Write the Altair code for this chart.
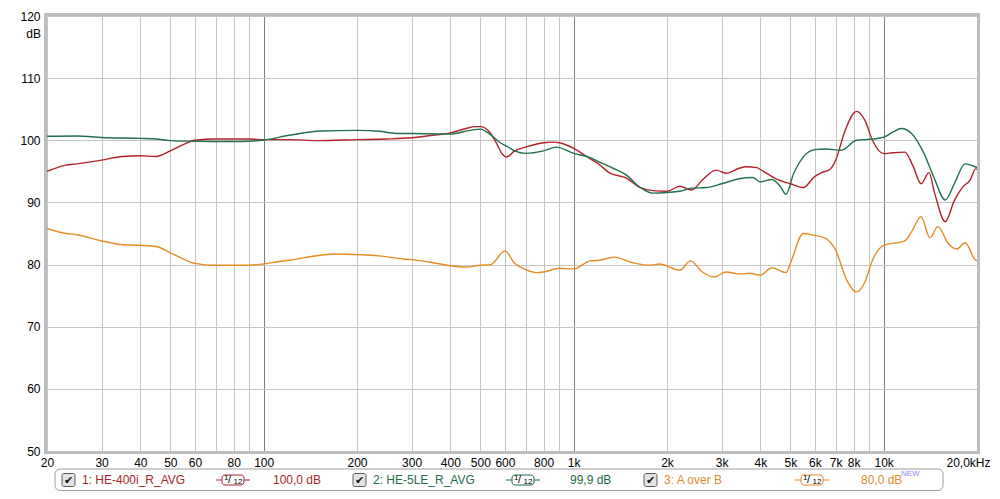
import altair as alt
import pandas as pd

# ---------------- data ----------------
series_names = ["1: HE-400i_R_AVG", "2: HE-5LE_R_AVG", "3: A over B"]
legend_values = ["100,0 dB", "99,9 dB", "80,0 dB"]
series_colors = ["#b3222b", "#23704c", "#e68c26"]
text_colors = ["#a8262d", "#246b49", "#e38a2e"]

red_freq = [20, 23, 25, 30, 35, 40, 45, 50, 55, 60, 70, 80, 90, 100, 120, 150, 200, 250, 300,
            350, 400, 450, 480, 500, 536, 560, 590, 607, 645, 700, 800, 860, 900, 1000, 1100,
            1210, 1300, 1480, 1640, 1800, 2000, 2200, 2400, 2600, 2880, 3100, 3420, 3600, 3900,
            4000, 4500, 5000, 5500, 6000, 6300, 6700, 7000, 7500, 8170, 8700, 9200, 10000,
            10700, 11700, 12400, 13200, 14000, 14600, 15800, 16900, 18000, 19000, 19800, 20000]
red_db = [95.0, 96.0, 96.2, 96.8, 97.4, 97.5, 97.4, 98.3, 99.3, 100.0, 100.2, 100.2, 100.2, 100.1,
          100.1, 99.95, 100.1, 100.2, 100.4, 100.8, 101.2, 101.9, 102.2, 102.2, 101.3, 99.8, 97.7,
          97.3, 98.3, 98.9, 99.6, 99.7, 99.6, 98.7, 97.4, 96.1, 94.8, 93.9, 92.4, 91.9, 91.8, 92.6,
          92.0, 93.6, 95.2, 94.7, 95.5, 95.75, 95.6, 95.3, 93.8, 93.0, 92.4, 94.2, 94.8, 95.3,
          96.8, 101.5, 104.65, 103.2, 100.0, 97.85, 98.0, 98.1, 96.0, 93.0, 94.8, 91.5, 86.9,
          90.3, 92.5, 93.6, 95.4, 95.3]

green_freq = [20, 25, 30, 40, 45, 50, 60, 70, 80, 90, 100, 121, 152, 200, 236, 268, 300, 400, 464,
              500, 536, 580, 620, 645, 700, 800, 880, 1000, 1130, 1210, 1340, 1480, 1640, 1800,
              2000, 2200, 2400, 2680, 3000, 3420, 3780, 4000, 4360, 4650, 4840, 5120, 5500, 6000,
              6500, 7300, 8170, 9200, 10000, 10700, 11400, 12300, 13500, 14500, 15800, 16900,
              18300, 19800, 20000]
green_db = [100.65, 100.7, 100.45, 100.3, 100.2, 99.95, 99.85, 99.8, 99.8, 99.85, 100.05, 100.8,
            101.5, 101.6, 101.45, 101.1, 101.1, 101.0, 101.6, 101.8, 101.0, 99.6, 98.8, 98.3, 97.9,
            98.3, 98.9, 97.9, 97.2, 96.5, 95.5, 94.4, 92.4, 91.5, 91.6, 91.8, 92.3, 92.4, 93.0,
            93.8, 94.0, 93.3, 93.7, 92.5, 91.3, 94.6, 97.3, 98.5, 98.6, 98.4, 100.0, 100.2, 100.5,
            101.3, 101.9, 101.1, 97.85, 94.1, 90.4, 93.0, 96.2, 95.7, 95.6]

orange_freq = [20, 23, 25, 30, 35, 40, 45, 50, 55, 60, 70, 80, 90, 100, 112, 121, 152, 171, 200,
               236, 281, 300, 352, 400, 450, 500, 540, 600, 645, 700, 760, 800, 900, 1000, 1130,
               1210, 1350, 1550, 1750, 1890, 2200, 2380, 2600, 2840, 3100, 3420, 3700, 4000, 4360,
               4840, 5000, 5500, 6000, 6500, 7000, 7600, 8170, 8700, 9200, 10000, 11700, 12400,
               13200, 14100, 14950, 16200, 17200, 18300, 19800, 20000]
orange_db = [85.8, 85.0, 84.8, 83.8, 83.2, 83.1, 82.9, 81.9, 80.9, 80.2, 79.9, 79.9, 79.9, 80.1,
             80.5, 80.7, 81.5, 81.7, 81.6, 81.4, 80.9, 80.8, 80.3, 79.8, 79.6, 79.9, 80.0, 82.2,
             80.2, 79.2, 78.7, 78.8, 79.4, 79.3, 80.6, 80.7, 81.2, 80.3, 79.9, 80.1, 79.1, 80.6,
             78.8, 78.0, 78.8, 78.5, 78.6, 78.3, 79.5, 78.7, 80.2, 85.0, 84.7, 84.2, 82.3, 77.5,
             75.6, 77.2, 80.7, 83.1, 83.8, 85.6, 87.7, 84.3, 86.1, 83.3, 82.5, 83.5, 80.7, 80.6]

grid_freqs = [20, 30, 40, 50, 60, 70, 80, 90, 100, 200, 300, 400, 500, 600, 700, 800, 900,
              1000, 2000, 3000, 4000, 5000, 6000, 7000, 8000, 9000, 10000, 20000]
db_ticks = [50, 60, 70, 80, 90, 100, 110, 120]

# ---------------- layout ----------------
W, H = 930, 435
FONT = "Liberation Sans"

curves = pd.concat([
    pd.DataFrame({"freq": red_freq, "db": red_db, "series": series_names[0]}),
    pd.DataFrame({"freq": green_freq, "db": green_db, "series": series_names[1]}),
    pd.DataFrame({"freq": orange_freq, "db": orange_db, "series": series_names[2]}),
])

x_scale = alt.Scale(type="log", domain=[20, 20000], nice=False)
y_scale = alt.Scale(domain=[50, 120], nice=False, zero=False)

label_expr = ("datum.value == 20000 ? '20,0kHz' : "
              "(indexof([70, 90, 700, 900, 9000], datum.value) >= 0 ? '' : "
              "(datum.value >= 1000 ? (datum.value / 1000) + 'k' : '' + datum.value))")

lines = alt.Chart(curves).mark_line(strokeWidth=1.4, interpolate="monotone", clip=True).encode(
    x=alt.X("freq:Q", scale=x_scale, title=None,
            axis=alt.Axis(values=grid_freqs, labelExpr=label_expr, labelFlush=False,
                          labelOverlap=False, ticks=False, domain=False, grid=True,
                          gridColor={"condition": {"test": "datum.value == 100 || datum.value == 1000 || datum.value == 10000",
                                                   "value": "#7c7c7c"},
                                     "value": "#c6c6c6"},
                          labelOffset={"condition": {"test": "datum.value == 20000", "value": -9},
                                       "value": 0},
                          labelPadding=6)),
    y=alt.Y("db:Q", scale=y_scale, title=None,
            axis=alt.Axis(values=db_ticks, ticks=False, domain=False, grid=True,
                          gridColor="#c6c6c6", labelPadding=7)),
    color=alt.Color("series:N", scale=alt.Scale(domain=series_names, range=series_colors),
                    legend=None),
)

one = pd.DataFrame({"k": [0]})


def txt(text, x, y, color="#000000", size=12, align="left", baseline="middle", font=FONT):
    return alt.Chart(pd.DataFrame({"t": [text]})).mark_text(
        align=align, baseline=baseline, fontSize=size, font=font, color=color
    ).encode(x=alt.value(x), y=alt.value(y), text="t:N")


def box(x1, x2, y1, y2, stroke, fill="white", sw=1, radius=0, opacity=1):
    return alt.Chart(one).mark_rect(
        stroke=stroke, fill=fill, strokeWidth=sw, cornerRadius=radius, fillOpacity=opacity
    ).encode(x=alt.value(x1), x2=alt.value(x2), y=alt.value(y1), y2=alt.value(y2))


def hline(x1, x2, y, color):
    return alt.Chart(one).mark_rule(color=color, strokeWidth=1).encode(
        x=alt.value(x1), x2=alt.value(x2), y=alt.value(y))


frame = box(-1.5, W + 1.5, -1.5, H + 1.5, stroke="#bdbdbd", fill="white", sw=3, opacity=0)
db_label = txt("dB", -6, 22, size=12, align="right", baseline="alphabetic")

LY = 464  # legend centre line (plot coordinates)
layers = [lines, frame, db_label,
          box(8, 896, LY - 11, LY + 10.5, stroke="#9c9c9c", sw=1, radius=5, opacity=0)]

check_x = [15, 306, 597]
name_x = [35, 326, 617]
icon_x = [175, 465, 754]
value_x = [226, 523, 814]

for i in range(3):
    c = text_colors[i]
    cx = check_x[i]
    layers.append(box(cx, cx + 13, LY - 6.5, LY + 6.5, stroke="#5c5c5c", fill="#e2e2e2", radius=2))
    layers.append(txt("\u2714", cx + 6.5, LY + 0.5, color="#151515", size=11, align="center",
                      font="DejaVu Sans"))
    layers.append(txt(series_names[i], name_x[i], LY, color=c))
    ix = icon_x[i]
    layers.append(hline(ix - 6, ix, LY, c))
    layers.append(hline(ix + 22, ix + 28, LY, c))
    layers.append(box(ix, ix + 22, LY - 5, LY + 5, stroke=c, fill="white", radius=3))
    layers.append(txt("1", ix + 2, LY - 2, color="#000000", size=8))
    layers.append(txt("/", ix + 7.5, LY, color="#000000", size=11, align="center"))
    layers.append(txt("12", ix + 11.5, LY + 2, color="#000000", size=8))
    layers.append(txt(legend_values[i], value_x[i], LY, color=c))

layers.append(txt("NEW", 854, LY - 6, color="#8c8cff", size=8))

chart = alt.layer(*layers).properties(
    width=W, height=H,
    padding={"left": 39, "top": 8, "right": 15, "bottom": 40},
    autosize=alt.AutoSizeParams(type="none"),
).configure_view(stroke=None).configure_axis(
    labelFont=FONT, labelFontSize=12, labelColor="#000000"
)

chart.save("out.html", embed_options={"renderer": "svg", "actions": False})
